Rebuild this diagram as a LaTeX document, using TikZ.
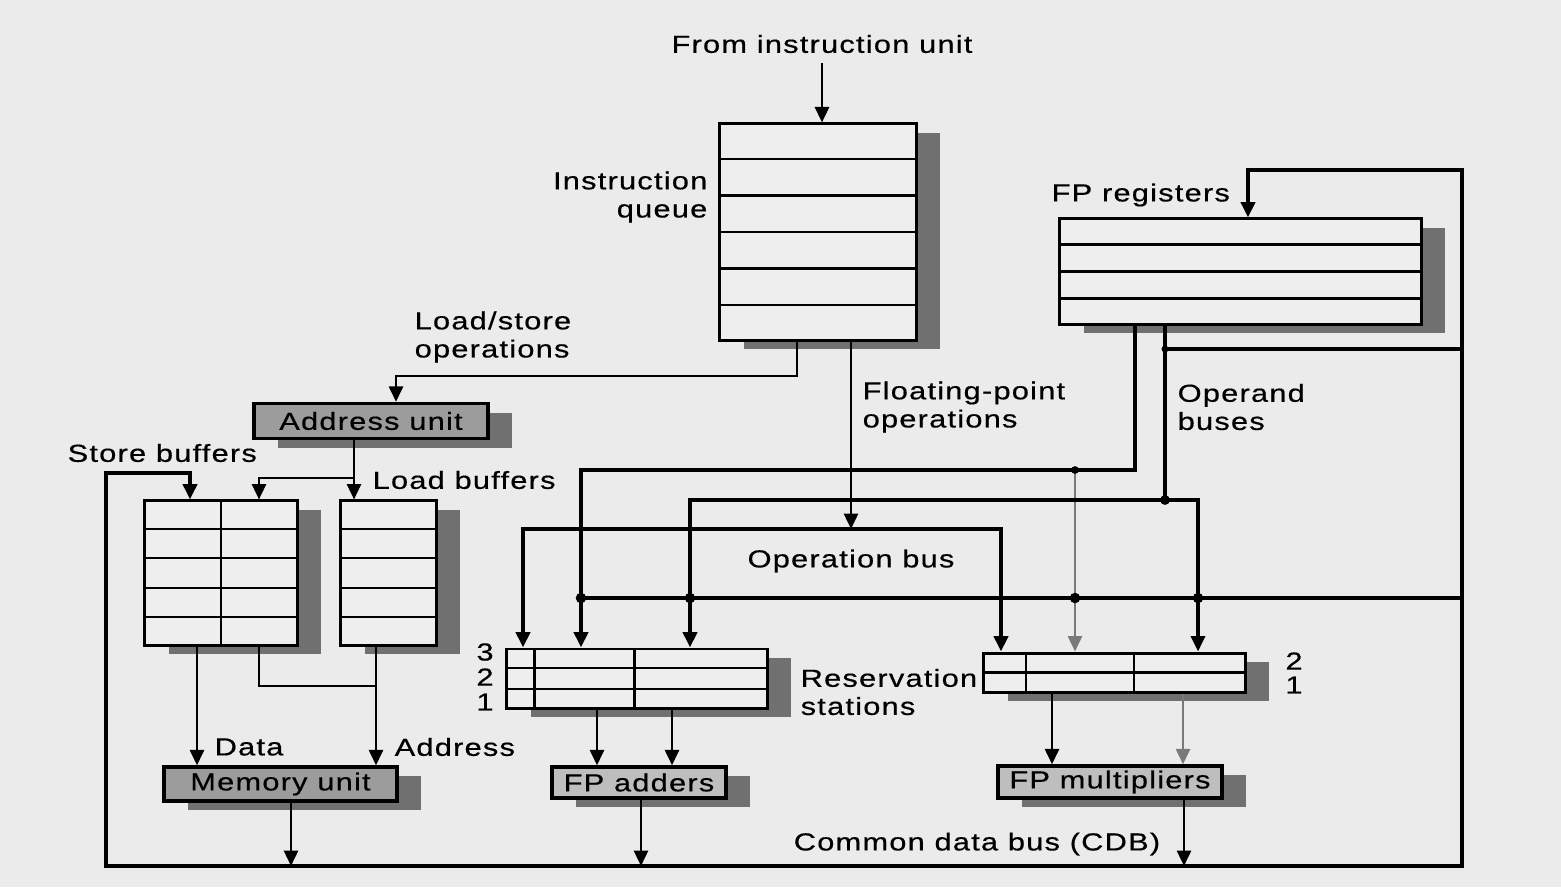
\documentclass[tikz,border=0pt]{standalone}
\usepackage{fontspec}
\setmainfont{Liberation Sans}[FakeStretch=1.25,LetterSpace=5,FakeBold=0.5]
\usetikzlibrary{arrows.meta,shadows,calc}
\definecolor{bgcol}{HTML}{EBEBEB}
\definecolor{cellcol}{HTML}{EEEEEE}
\definecolor{shadecol}{HTML}{707070}
\definecolor{unitcol}{HTML}{9C9C9C}
\definecolor{fpcol}{HTML}{BEBEBE}
\definecolor{wiregray}{HTML}{7A7A7A}
\tikzset{
        bus/.style={line width=1.2pt},
        midw/.style={line width=0.9pt},
        wire/.style={line width=0.75pt},
        cell/.style={line width=0.65pt},
        boxshadow/.style={drop shadow={shadow xshift=0.24cm, shadow yshift=-0.09cm, fill=shadecol, opacity=1}},
        tbl/.style={draw, line width=0.85pt, fill=cellcol, inner sep=0pt, boxshadow},
        fu/.style={draw, line width=0.95pt, fill=unitcol, inner sep=0pt, boxshadow},
        fpu/.style={fu, fill=fpcol},
        lbl/.style={inner sep=0pt}
    }

\begin{document}
\begin{tikzpicture}[x=0.01cm, y=-0.01cm, font=\fontsize{7}{8}\selectfont,
    >={Triangle[length=4.4pt,width=4pt]}]

\useasboundingbox (0,0) rectangle (1561,887);
\fill[bgcol] (0,0) rectangle (1561,887);

% tables
\node[tbl, minimum width=1.96cm, minimum height=2.16cm] (iq) at (818,232) {};
\node[tbl, minimum width=3.61cm, minimum height=1.05cm] (fpr) at (1240.5,271.5) {};
\node[tbl, minimum width=1.52cm, minimum height=1.44cm] (sb) at (221,573) {};
\node[tbl, minimum width=0.95cm, minimum height=1.44cm] (lb) at (388.5,573) {};
\node[tbl, minimum width=2.60cm, minimum height=0.59cm] (rsa) at (637,678.5) {};
\node[tbl, minimum width=2.61cm, minimum height=0.39cm] (rsm) at (1114.5,672.5) {};

\foreach \i in {1,...,5}
  \draw[cell] ($(iq.north west)!\i/6!(iq.south west)$) -- ($(iq.north east)!\i/6!(iq.south east)$);
\foreach \i in {1,...,3}
  \draw[cell] ($(fpr.north west)!\i/4!(fpr.south west)$) -- ($(fpr.north east)!\i/4!(fpr.south east)$);
\foreach \t in {sb,lb}
  \foreach \i in {1,...,4}
    \draw[cell] ($(\t.north west)!\i/5!(\t.south west)$) -- ($(\t.north east)!\i/5!(\t.south east)$);
\draw[cell] (sb.north) -- (sb.south);
\foreach \i in {1,2}
  \draw[cell] ($(rsa.north west)!\i/3!(rsa.south west)$) -- ($(rsa.north east)!\i/3!(rsa.south east)$);
\foreach \f in {0.11,0.49}
  \draw[cell] ($(rsa.north west)!\f!(rsa.north east)$) -- ($(rsa.south west)!\f!(rsa.south east)$);
\draw[cell] (rsm.west) -- (rsm.east);
\foreach \f in {0.165,0.575}
  \draw[cell] ($(rsm.north west)!\f!(rsm.north east)$) -- ($(rsm.south west)!\f!(rsm.south east)$);

% functional units
\node[fu, minimum width=2.34cm, minimum height=0.35cm] (addr) at (371,421) {Address unit};
\node[fu, minimum width=2.33cm, minimum height=0.34cm] (mem) at (280.5,784) {Memory unit};
\node[fpu, minimum width=1.74cm, minimum height=0.31cm] (fpa) at (639,782.5) {FP adders};
\node[fpu, minimum width=2.24cm, minimum height=0.32cm] (fpm) at (1110,782) {FP multipliers};

% labels
\node[lbl] (src) at (822,44) {From instruction unit};
\node[lbl, anchor=east, align=right] (iqlbl) at (708,197) {Instruction\\queue};
\node[lbl, anchor=west, align=left] (lslbl) at (414,337) {Load/store\\operations};
\node[lbl, anchor=west, align=left] (fplbl) at (862,407) {Floating-point\\operations};
\node[lbl, anchor=west, align=left] (oplbl) at (1177,407) {Operand\\buses};
\node[lbl, anchor=west] (fprlbl) at (1051,195) {FP registers};
\node[lbl, anchor=west] (sblbl) at (67,453) {Store buffers};
\node[lbl, anchor=west] (lblbl) at (372,480) {Load buffers};
\node[lbl] (opblbl) at (851,561) {Operation bus};
\node[lbl, anchor=west, align=left] (rslbl) at (800,692) {Reservation\\stations};
\node[lbl] (rsa3) at (485,652) {3};
\node[lbl] (rsa2) at (485,677) {2};
\node[lbl] (rsa1) at (485,702) {1};
\node[lbl] (rsm2) at (1294,661) {2};
\node[lbl] (rsm1) at (1294,685) {1};
\node[lbl, anchor=west] (datlbl) at (214,747) {Data};
\node[lbl, anchor=west] (adrlbl) at (394,747) {Address};
\node[lbl] (cdblbl) at (977,844) {Common data bus (CDB)};

% bends of the buses
\coordinate (iu) at (822,63);
\coordinate (lsA) at (797,376);
\coordinate (lsB) at (396,376);
\coordinate (fpop) at (851,529);
\coordinate (opL) at (523,529);
\coordinate (opR) at (1001,529);
\coordinate (obA) at (1135,470);
\coordinate (obAl) at (581,470);
\coordinate (obAm) at (1075,470);
\coordinate (obB) at (1165,500);
\coordinate (obBl) at (690,500);
\coordinate (obBr) at (1198,500);
\coordinate (fb) at (1165,349);
\coordinate (cdbT) at (1462,170);
\coordinate (fprin) at (1248,170);
\coordinate (cdbL) at (106,866);
\coordinate (sbin) at (190,473);
\coordinate (rsbus) at (1462,598);
\coordinate (afA) at (354,478);
\coordinate (afB) at (259,478);
\coordinate (dat) at (197,686);
\coordinate (sbj) at (259,686);
\coordinate (adj) at (376,686);
\coordinate (a1) at (597,730);
\coordinate (a2) at (672,730);
\coordinate (m1) at (1052,730);
\coordinate (m2) at (1183,730);
\coordinate (cdb1) at (291,866);
\coordinate (cdb2) at (641,866);
\coordinate (cdb3) at (1184,866);

\draw[wire,->] (iu) -- (iu |- iq.north);
\draw[wire,->] (iq.south -| lsA) |- (lsB) -- (lsB |- addr.north);
\draw[wire,->] (iq.south -| fpop) -- (fpop);

% operation bus
\draw[bus,<->] (opL |- rsa.north) -- (opL) -- (opR) -- (opR |- rsm.north);

% operand buses
\draw[bus,->] (fpr.south -| obA) -- (obA) -- (obAl) -- (obAl |- rsa.north);
\draw[wire,wiregray,->] (obAm) -- (obAm |- rsm.north);
\draw[bus,->] (fpr.south -| obB) -- (obB) -- (obBl) -- (obBl |- rsa.north);
\draw[midw,->] (obB) -- (obBr) -- (obBr |- rsm.north);

% common data bus
\draw[bus,<->] (sbin |- sb.north) -- (sbin) -| (cdbL) -| (cdbT) -| (fprin |- fpr.north);
\draw[midw] (rsbus) -- (rsbus -| obAl);
\draw[midw] (rsbus |- fb) -- (fb);
\foreach \p in {obAl,obBl,obAm,obBr}
  \fill (\p |- rsbus) circle[radius=1.5pt];
\fill (obB) circle[radius=1.4pt];
\fill (obAm) circle[radius=1.1pt];
\fill (fb) circle[radius=1pt];

% load/store side
\draw[wire,->] (addr.south -| afA) -- (afA |- lb.north);
\draw[wire,->] (afA) -- (afB) -- (afB |- sb.north);
\draw[wire,->] (sb.south -| dat) -- (dat |- mem.north);
\draw[wire] (sb.south -| sbj) -- (sbj) -- (adj);
\draw[wire,->] (lb.south -| adj) -- (adj |- mem.north);

% to the units and onto the CDB
\draw[wire,->] (rsa.south -| a1) -- (a1 |- fpa.north);
\draw[wire,->] (rsa.south -| a2) -- (a2 |- fpa.north);
\draw[wire,->] (rsm.south -| m1) -- (m1 |- fpm.north);
\draw[wire,wiregray,->] (rsm.south -| m2) -- (m2 |- fpm.north);
\draw[wire,->] (mem.south -| cdb1) -- (cdb1);
\draw[wire,->] (fpa.south -| cdb2) -- (cdb2);
\draw[wire,->] (fpm.south -| cdb3) -- (cdb3);

\end{tikzpicture}
\end{document}
